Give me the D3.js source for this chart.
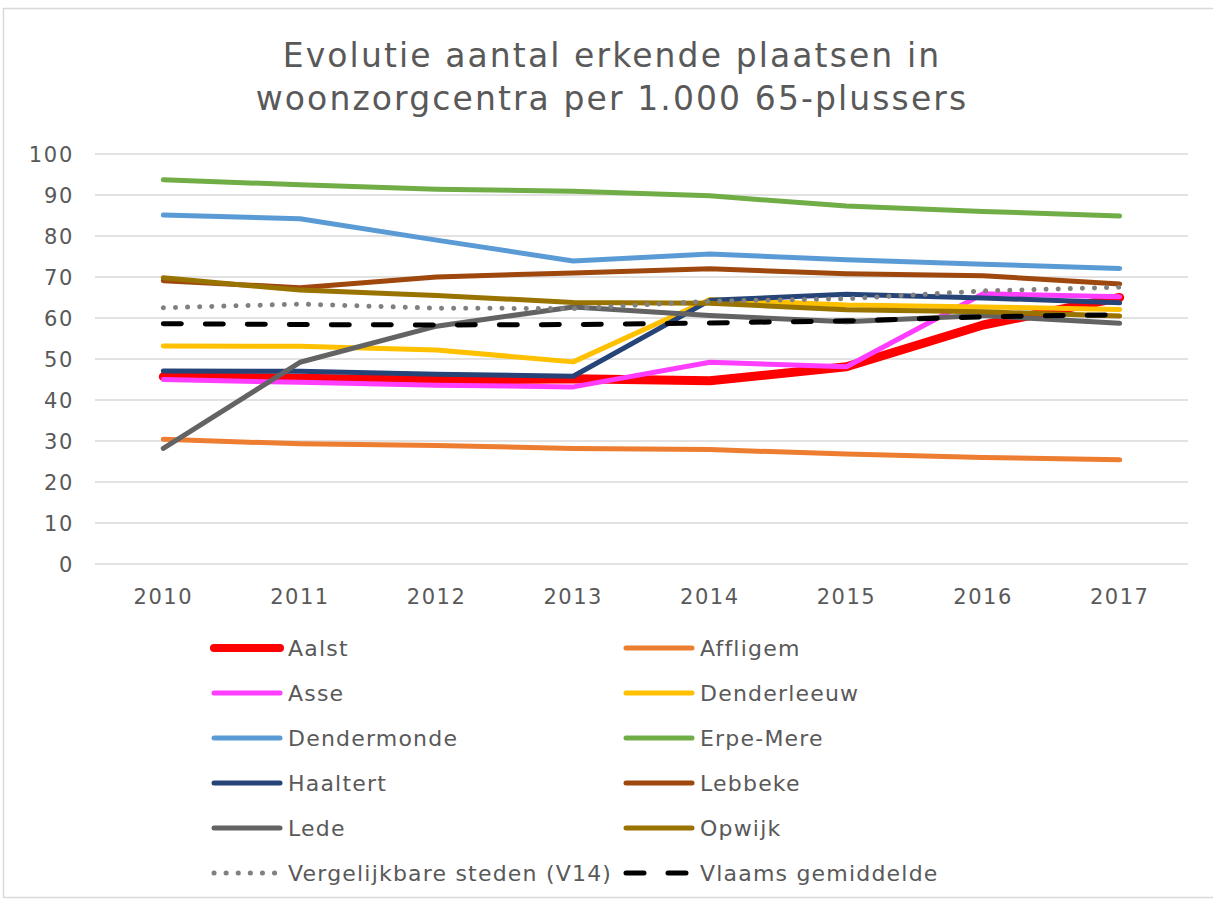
<!DOCTYPE html>
<html>
<head>
<meta charset="utf-8">
<script src="https://cdn.jsdelivr.net/npm/d3@7"></script>
<style>
  body { margin: 0; background: #fff; }
  text { font-family: "DejaVu Sans", Verdana, sans-serif; fill: #595959; }
</style>
</head>
<body>
<div id="chart"></div>
<script>
// data
var years = ["2010", "2011", "2012", "2013", "2014", "2015", "2016", "2017"];
var yTicks = [0, 10, 20, 30, 40, 50, 60, 70, 80, 90, 100];

var aalst       = [45.7, 45.3, 44.8, 45.2, 44.7, 48.1, 58.3, 65.0];
var affligem    = [30.4, 29.3, 28.9, 28.2, 27.9, 26.8, 26.0, 25.4];
var asse        = [45.0, 44.3, 43.6, 43.2, 49.2, 48.1, 65.9, 65.2];
var denderleeuw = [53.2, 53.1, 52.2, 49.3, 64.5, 63.2, 62.7, 62.1];
var dendermonde = [85.1, 84.2, 79.0, 73.9, 75.6, 74.2, 73.1, 72.1];
var erpeMere    = [93.7, 92.5, 91.4, 90.9, 89.8, 87.3, 86.0, 84.9];
var haaltert    = [47.1, 47.0, 46.3, 45.8, 64.3, 65.8, 64.9, 63.7];
var lebbeke     = [69.1, 67.4, 70.0, 71.0, 72.0, 70.8, 70.3, 68.3];
var lede        = [28.2, 49.2, 58.0, 62.7, 60.6, 59.1, 60.6, 58.7];
var opwijk      = [69.8, 66.8, 65.5, 63.8, 63.6, 62.0, 61.5, 60.5];
var vergelijk   = [62.5, 63.4, 62.4, 62.3, 64.1, 64.7, 66.6, 67.5];
var vlaams      = [58.6, 58.4, 58.3, 58.4, 58.8, 59.3, 60.3, 60.8];

var series = [
  {name: "Aalst", values: aalst, color: "#ff0000", width: 9},
  {name: "Affligem", values: affligem, color: "#ed7d31", width: 5},
  {name: "Asse", values: asse, color: "#ff3dff", width: 5},
  {name: "Denderleeuw", values: denderleeuw, color: "#ffc000", width: 5},
  {name: "Dendermonde", values: dendermonde, color: "#5b9bd5", width: 5},
  {name: "Erpe-Mere", values: erpeMere, color: "#70ad47", width: 5},
  {name: "Haaltert", values: haaltert, color: "#264478", width: 5},
  {name: "Lebbeke", values: lebbeke, color: "#9e480e", width: 5},
  {name: "Lede", values: lede, color: "#636363", width: 5},
  {name: "Opwijk", values: opwijk, color: "#997300", width: 5},
  {name: "Vergelijkbare steden (V14)", values: vergelijk, color: "#808080", width: 5, dash: "0.1 12"},
  {name: "Vlaams gemiddelde", values: vlaams, color: "#000000", width: 5, dash: "18 24"}
];

var width = 1213, height = 901;

var svg = d3.select("#chart").append("svg")
    .attr("width", width)
    .attr("height", height);

// chart border
svg.append("rect")
    .attr("x", 3.5).attr("y", 8.5)
    .attr("width", width + 10).attr("height", height - 12)
    .attr("fill", "#fff")
    .attr("stroke", "#d9d9d9")
    .attr("stroke-width", 1.5);

// title
var title = svg.append("text")
    .attr("text-anchor", "middle")
    .style("font-size", "33px")
    .style("letter-spacing", "2.1px");
title.append("tspan").attr("x", 612).attr("y", 67).text("Evolutie aantal erkende plaatsen in");
title.append("tspan").attr("x", 612).attr("y", 110).text("woonzorgcentra per 1.000 65-plussers");

var x = d3.scaleBand().domain(years).range([95, 1188]);
var y = d3.scaleLinear().domain([0, 100]).range([564, 154]);

// gridlines
svg.append("g")
    .selectAll("line")
    .data(yTicks)
    .enter().append("line")
    .attr("x1", 95).attr("x2", 1188)
    .attr("y1", function(d) { return y(d); })
    .attr("y2", function(d) { return y(d); })
    .attr("stroke", "#d9d9d9")
    .attr("stroke-width", 1.5);

// y axis labels
var yAxis = svg.append("g")
    .attr("transform", "translate(74,0)")
    .call(d3.axisLeft(y).tickValues(yTicks).tickSize(0).tickPadding(0));
yAxis.select(".domain").remove();
yAxis.selectAll("text")
    .style("font-size", "21px")
    .style("letter-spacing", "1.7px")
    .attr("fill", "#595959")
    .attr("dy", "0.36em");

// x axis labels
var xAxis = svg.append("g")
    .attr("transform", "translate(0,564)")
    .call(d3.axisBottom(x).tickSize(0).tickPadding(25));
xAxis.select(".domain").remove();
xAxis.selectAll("text")
    .style("font-size", "21px")
    .style("letter-spacing", "1.5px")
    .attr("fill", "#595959");

var line = d3.line()
    .x(function(d, i) { return x(years[i]) + x.bandwidth() / 2; })
    .y(function(d) { return y(d); });

svg.append("g")
    .selectAll("path")
    .data(series)
    .enter().append("path")
    .attr("d", function(d) { return line(d.values); })
    .attr("fill", "none")
    .attr("stroke", function(d) { return d.color; })
    .attr("stroke-width", function(d) { return d.width; })
    .attr("stroke-linecap", "round")
    .attr("stroke-linejoin", "round")
    .attr("stroke-dasharray", function(d) { return d.dash || null; });

// legend
var legend = svg.append("g")
    .selectAll("g")
    .data(series)
    .enter().append("g")
    .attr("transform", function(d, i) {
        return "translate(" + (i % 2 === 0 ? 212 : 624) + "," + (648 + Math.floor(i / 2) * 45) + ")";
    });

legend.append("line")
    .attr("x1", 2).attr("x2", 68)
    .attr("stroke", function(d) { return d.color; })
    .attr("stroke-width", function(d) { return d.name === "Aalst" ? 8 : 5; })
    .attr("stroke-linecap", "round")
    .attr("stroke-dasharray", function(d) {
        if (d.name === "Vlaams gemiddelde") return "18 24";
        return d.dash || null;
    });

legend.append("text")
    .attr("x", 76)
    .attr("dy", "0.35em")
    .style("font-size", "22px")
    .style("letter-spacing", "1.2px")
    .text(function(d) { return d.name; });
</script>
</body>
</html>
